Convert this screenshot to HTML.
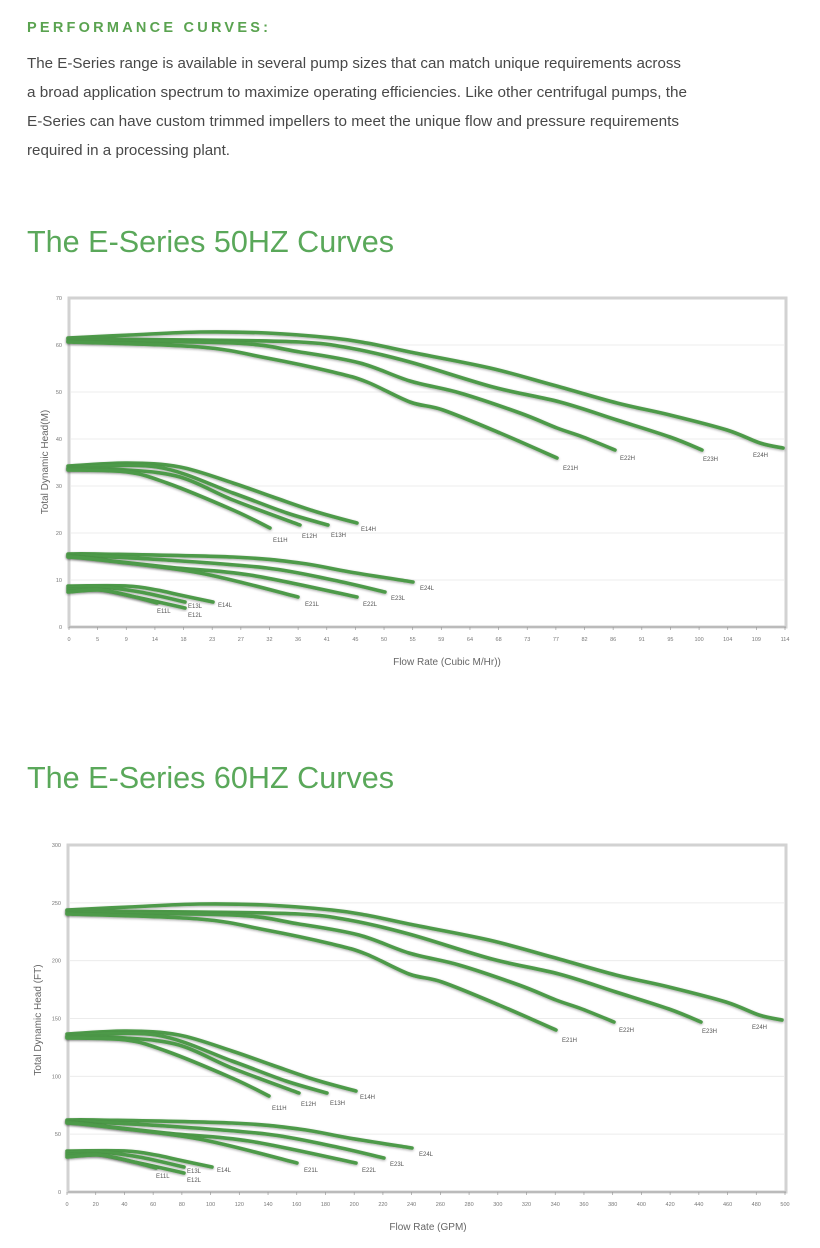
<!DOCTYPE html>
<html><head><meta charset="utf-8"><style>
html,body{margin:0;padding:0;background:#fff;}
svg{display:block;font-family:"Liberation Sans",sans-serif;}
</style></head><body>
<svg id="s" width="820" height="1248" viewBox="0 0 820 1248" xmlns="http://www.w3.org/2000/svg">
<defs><filter id="sh" x="-5%" y="-20%" width="110%" height="140%"><feGaussianBlur in="SourceAlpha" stdDeviation="1.2"/><feOffset dx="0" dy="1.2"/><feComponentTransfer><feFuncA type="linear" slope="0.35"/></feComponentTransfer><feMerge><feMergeNode/><feMergeNode in="SourceGraphic"/></feMerge></filter></defs>
<text x="27" y="32" font-size="14.5" font-weight="bold" fill="#5aa350" textLength="241" lengthAdjust="spacing">PERFORMANCE CURVES:</text>
<g font-size="14.5" fill="#484848">
<text x="27" y="68" textLength="654" lengthAdjust="spacingAndGlyphs">The E-Series range is available in several pump sizes that can match unique requirements across</text>
<text x="27" y="97" textLength="660" lengthAdjust="spacingAndGlyphs">a broad application spectrum to maximize operating efficiencies. Like other centrifugal pumps, the</text>
<text x="27" y="126" textLength="652" lengthAdjust="spacingAndGlyphs">E-Series can have custom trimmed impellers to meet the unique flow and pressure requirements</text>
<text x="27" y="155" textLength="203" lengthAdjust="spacingAndGlyphs">required in a processing plant.</text>
</g>
<text x="27" y="252" font-size="31" fill="#5aa85a" textLength="367" lengthAdjust="spacingAndGlyphs">The E-Series 50HZ Curves</text>
<text x="27" y="788" font-size="31" fill="#5aa85a" textLength="367" lengthAdjust="spacingAndGlyphs">The E-Series 60HZ Curves</text>
<g id="c1"></g><g id="c2"></g>
</svg>
<script>
var NS="http://www.w3.org/2000/svg";
function el(p,t,a,txt){var e=document.createElementNS(NS,t);for(var k in a)e.setAttribute(k,a[k]);if(txt!=null)e.textContent=txt;p.appendChild(e);return e;}
function smooth(P){var d="M"+P[0][0]+","+P[0][1];for(var i=0;i<P.length-1;i++){var p0=P[i-1]||P[i],p1=P[i],p2=P[i+1],p3=P[i+2]||p2;
 var c1x=p1[0]+(p2[0]-p0[0])/6,c1y=p1[1]+(p2[1]-p0[1])/6,c2x=p2[0]-(p3[0]-p1[0])/6,c2y=p2[1]-(p3[1]-p1[1])/6;
 d+=" C"+c1x.toFixed(1)+","+c1y.toFixed(1)+" "+c2x.toFixed(1)+","+c2y.toFixed(1)+" "+p2[0]+","+p2[1];}return d;}
var groups=[
 {curves:[
  [[68,338],[130,335],[200,332],[267,333],[333,338],[367,343],[410,352],[490,368],[553,385],[617,403],[670,415],[727,430],[760,443],[783,448]],
  [[68,339],[200,340],[300,342],[350,348],[410,362],[493,387],[560,402],[617,420],[670,437],[702,450]],
  [[68,341],[233,343],[300,352],[360,363],[410,381],[460,393],[520,413],[557,428],[583,437],[615,450]],
  [[68,342],[200,347],[267,358],[333,372],[367,382],[410,402],[443,410],[500,433],[557,458]]],
  labels:[["E21H",563,470],["E22H",620,460],["E23H",703,461],["E24H",753,457]],off:572},
 {curves:[
  [[68,466],[127,463],[180,467],[233,483],[273,497],[317,512],[357,523]],
  [[68,468],[157,467],[233,493],[287,513],[328,525]],
  [[68,469],[127,470],[180,477],[233,500],[300,525]],
  [[68,470],[127,472],[167,483],[233,510],[270,528]]],
  labels:[["E11H",273,542],["E12H",302,538],["E13H",331,537],["E14H",361,531]],off:568},
 {curves:[
  [[68,554],[100,554],[233,557],[300,563],[350,572],[413,582]],
  [[68,555],[167,560],[267,568],[333,580],[385,592]],
  [[68,556],[167,567],[250,575],[357,597]],
  [[68,557],[100,560],[200,573],[298,597]]],
  labels:[["E21L",305,606],["E22L",363,606],["E23L",391,600],["E24L",420,590]],off:566},
 {curves:[
  [[68,586],[127,586],[157,590],[180,595],[213,602]],
  [[68,588],[100,587],[140,592],[185,602]],
  [[68,590],[100,590],[140,598],[185,608]],
  [[68,592],[100,590],[127,595],[157,603]]],
  labels:[["E11L",157,613],["E12L",188,617],["E13L",188,608],["E14L",218,607]],off:565}
];
function chart(g,o){
 el(g,"rect",{x:o.L,y:o.T,width:o.R-o.L,height:o.B-o.T,fill:"#fff",stroke:"#d2d2d2","stroke-width":3});
 for(var i=1;i<o.ny;i++){var y=o.B-(o.B-o.T)*i/o.ny;el(g,"line",{x1:o.L+2,x2:o.R-2,y1:y,y2:y,stroke:"#ececec","stroke-width":1});}
 for(var i=0;i<=o.ny;i++){var y=o.B-(o.B-o.T)*i/o.ny;el(g,"text",{x:o.L-7,y:y+2,"font-size":5.5,fill:"#777","text-anchor":"end"},String(i*o.ystep));}
 el(g,"line",{x1:o.L,x2:o.R,y1:o.B,y2:o.B,stroke:"#bbb","stroke-width":2});
 for(var i=0;i<o.xl.length;i++){var x=o.x0+(o.x1-o.x0)*i/(o.xl.length-1);
  el(g,"line",{x1:x,x2:x,y1:o.B,y2:o.B+3,stroke:"#999","stroke-width":0.7});
  el(g,"text",{x:x,y:o.B+14,"font-size":5.5,fill:"#777","text-anchor":"middle"},String(o.xl[i]));}
 el(g,"text",{x:0,y:0,"font-size":10,fill:"#666","text-anchor":"middle",transform:"translate("+o.ylx+","+o.yly+") rotate(-90)"},o.ylab);
 el(g,"text",{x:o.xlx,y:o.xly,"font-size":10,fill:"#666","text-anchor":"middle"},o.xlab);
 groups.forEach(function(gr){
  var d=o.shift?gr.off:0;
  gr.curves.forEach(function(c){
   var P=c.map(function(p){return [p[0]+o.dx,p[1]+d];});
   el(g,"path",{d:smooth(P),fill:"none",stroke:"#4e9a48","stroke-width":3.6,"stroke-linejoin":"round","stroke-linecap":"round",filter:"url(#sh)"});
  });
  gr.labels.forEach(function(l){el(g,"text",{x:l[1]+o.dx,y:l[2]+d,"font-size":6,fill:"#555"},l[0]);});
 });
}
var xl1=[0,5,9,14,18,23,27,32,36,41,45,50,55,59,64,68,73,77,82,86,91,95,100,104,109,114];
var xl2=[];for(var i=0;i<=500;i+=20)xl2.push(i);
chart(document.getElementById("c1"),{L:69,R:786,T:298,B:627,ny:7,ystep:10,x0:69,x1:785,xl:xl1,ylab:"Total Dynamic Head(M)",ylx:48,yly:462,xlab:"Flow Rate  (Cubic M/Hr))",xlx:447,xly:665,shift:false,dx:0});
chart(document.getElementById("c2"),{L:68,R:786,T:845,B:1192,ny:6,ystep:50,x0:67,x1:785,xl:xl2,ylab:"Total Dynamic Head (FT)",ylx:41,yly:1020,xlab:"Flow Rate  (GPM)",xlx:428,xly:1230,shift:true,dx:-1});
</script>
</body></html>
